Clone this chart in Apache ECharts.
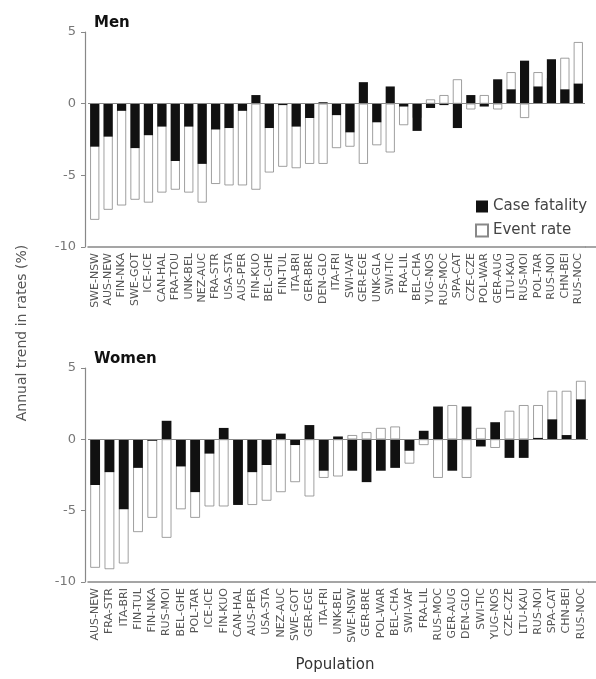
<!DOCTYPE html>
<html>
<head>
<meta charset="utf-8">
<script src="https://cdn.jsdelivr.net/npm/echarts@6/dist/echarts.min.js"></script>
<style>
html,body{margin:0;padding:0;background:#fff;}
#chart{width:596px;height:679px;}
</style>
</head>
<body>
<div id="chart"></div>
<script>
// Categories (population codes)
var menPops = ['SWE-NSW','AUS-NEW','FIN-NKA','SWE-GOT','ICE-ICE','CAN-HAL','FRA-TOU','UNK-BEL','NEZ-AUC','FRA-STR','USA-STA','AUS-PER','FIN-KUO','BEL-GHE','FIN-TUL','ITA-BRI','GER-BRE','DEN-GLO','ITA-FRI','SWI-VAF','GER-EGE','UNK-GLA','SWI-TIC','FRA-LIL','BEL-CHA','YUG-NOS','RUS-MOC','SPA-CAT','CZE-CZE','POL-WAR','GER-AUG','LTU-KAU','RUS-MOI','POL-TAR','RUS-NOI','CHN-BEI','RUS-NOC'];
var womenPops = ['AUS-NEW','FRA-STR','ITA-BRI','FIN-TUL','FIN-NKA','RUS-MOI','BEL-GHE','POL-TAR','ICE-ICE','FIN-KUO','CAN-HAL','AUS-PER','USA-STA','NEZ-AUC','SWE-GOT','GER-EGE','ITA-FRI','UNK-BEL','SWE-NSW','GER-BRE','POL-WAR','BEL-CHA','SWI-VAF','FRA-LIL','RUS-MOC','GER-AUG','DEN-GLO','SWI-TIC','YUG-NOS','CZE-CZE','LTU-KAU','RUS-NOI','SPA-CAT','CHN-BEI','RUS-NOC'];

// Series values (annual trend, %)
var menCaseFatality = [-3.0,-2.3,-0.5,-3.1,-2.2,-1.6,-4.0,-1.6,-4.2,-1.8,-1.7,-0.5,0.6,-1.7,-0.1,-1.6,-1.0,0.1,-0.8,-2.0,1.5,-1.3,1.2,-0.2,-1.9,-0.3,-0.1,-1.7,0.6,-0.2,1.7,1.0,3.0,1.2,3.1,1.0,1.4];
var menEventRate = [-8.1,-7.4,-7.1,-6.7,-6.9,-6.2,-6.0,-6.2,-6.9,-5.6,-5.7,-5.7,-6.0,-4.8,-4.4,-4.5,-4.2,-4.2,-3.1,-3.0,-4.2,-2.9,-3.4,-1.5,-1.0,0.3,0.6,1.7,-0.4,0.6,-0.4,2.2,-1.0,2.2,1.8,3.2,4.3];
var womenCaseFatality = [-3.2,-2.3,-4.9,-2.0,-0.1,1.3,-1.9,-3.7,-1.0,0.8,-4.6,-2.3,-1.8,0.4,-0.4,1.0,-2.2,0.2,-2.2,-3.0,-2.2,-2.0,-0.8,0.6,2.3,-2.2,2.3,-0.5,1.2,-1.3,-1.3,0.1,1.4,0.3,2.8];
var womenEventRate = [-9.0,-9.1,-8.7,-6.5,-5.5,-6.9,-4.9,-5.5,-4.7,-4.7,-4.5,-4.6,-4.3,-3.7,-3.0,-4.0,-2.7,-2.6,0.3,0.5,0.8,0.9,-1.7,-0.4,-2.7,2.4,-2.7,0.8,-0.6,2.0,2.4,2.4,3.4,3.4,4.1];

// Tick labels
var yTicks = [5, 0, -5, -10];

var chart = echarts.init(document.getElementById('chart'));
var FONT = 'DejaVu Sans';

function yAxisDef(gi){
  return {
    gridIndex: gi, type: 'value', min: -10, max: 5, interval: 5, offset: 3,
    axisLine: {show: true, lineStyle: {color: '#888', width: 1.2}},
    axisTick: {show: true, length: 4, lineStyle: {color: '#888'}},
    splitLine: {show: false},
    axisLabel: {
      fontFamily: FONT, fontSize: 13, color: '#777', margin: 9,
      formatter: function(v){ return yTicks.indexOf(v) >= 0 ? String(v) : ''; }
    }
  };
}
function xAxisDef(gi, cats){
  return {
    gridIndex: gi, type: 'category', data: cats, position: 'bottom',
    axisLine: {show: true, onZero: false, lineStyle: {color: '#888', width: 1.5}},
    axisTick: {show: false},
    axisLabel: {rotate: 90, interval: 0, fontFamily: FONT, fontSize: 11, color: '#555', margin: 6}
  };
}
var zeroLine = {
  silent: true, symbol: 'none', label: {show: false},
  lineStyle: {color: '#888', width: 1.2, type: 'solid'},
  data: [{yAxis: 0}]
};
var whiteStyle = {color: '#ffffff', borderColor: '#888', borderWidth: 0.8};
var blackStyle = {color: '#111111'};

chart.setOption({
  animation: false,
  backgroundColor: '#fff',
  title: [
    {text: 'Men', left: 89, top: 11, textStyle: {fontFamily: FONT, fontSize: 15, fontWeight: 'bold', color: '#111'}},
    {text: 'Women', left: 89, top: 347, textStyle: {fontFamily: FONT, fontSize: 15, fontWeight: 'bold', color: '#111'}}
  ],
  legend: {
    data: ['Case fatality', 'Event rate'],
    orient: 'vertical', left: 475, top: 199, padding: 0,
    itemWidth: 12, itemHeight: 12, itemGap: 9,
    icon: 'rect',
    textStyle: {fontFamily: FONT, fontSize: 15, color: '#444'}
  },
  grid: [
    {left: 88, top: 32, width: 497, height: 215},
    {left: 88, top: 368, width: 500, height: 214}
  ],
  xAxis: [xAxisDef(0, menPops), xAxisDef(1, womenPops)],
  yAxis: [yAxisDef(0), yAxisDef(1)],
  series: [
    {name: 'Event rate', type: 'bar', xAxisIndex: 0, yAxisIndex: 0, data: menEventRate, barWidth: '68%', barGap: '-100%', itemStyle: whiteStyle},
    {name: 'Case fatality', type: 'bar', xAxisIndex: 0, yAxisIndex: 0, data: menCaseFatality, barWidth: '68%', barGap: '-100%', itemStyle: blackStyle, markLine: zeroLine},
    {name: 'Event rate', type: 'bar', xAxisIndex: 1, yAxisIndex: 1, data: womenEventRate, barWidth: '68%', barGap: '-100%', itemStyle: whiteStyle},
    {name: 'Case fatality', type: 'bar', xAxisIndex: 1, yAxisIndex: 1, data: womenCaseFatality, barWidth: '68%', barGap: '-100%', itemStyle: blackStyle, markLine: zeroLine}
  ],
  graphic: [
    {type: 'line', shape: {x1: 585, y1: 247, x2: 596, y2: 247}, style: {stroke: '#888', lineWidth: 1.5}},
    {type: 'line', shape: {x1: 588, y1: 582, x2: 596, y2: 582}, style: {stroke: '#888', lineWidth: 1.5}},
    {type: 'text', x: 22, y: 333, rotation: Math.PI / 2,
      style: {text: 'Annual trend in rates (%)', fontFamily: FONT, fontSize: 14, fill: '#555', textAlign: 'center', textVerticalAlign: 'middle'}},
    {type: 'text', x: 335, y: 665,
      style: {text: 'Population', fontFamily: FONT, fontSize: 15, fill: '#333', textAlign: 'center', textVerticalAlign: 'middle'}}
  ]
});
</script>
</body>
</html>
